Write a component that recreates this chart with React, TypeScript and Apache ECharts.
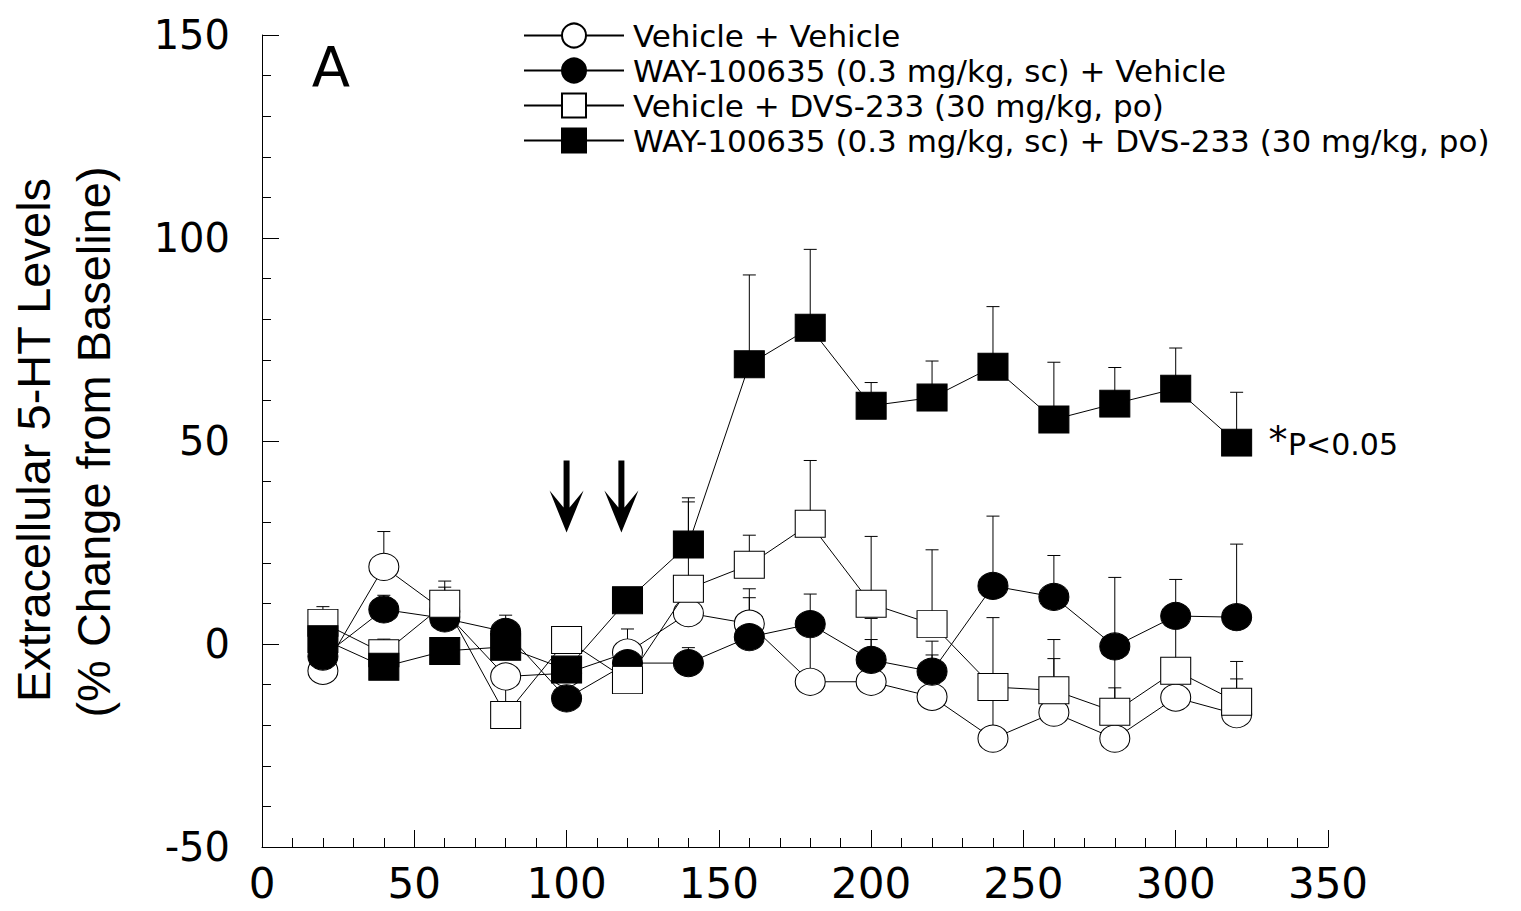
import React, { useEffect, useRef } from "react";
import * as echarts from "echarts";

// ---- data ----
const times = [20, 40, 60, 80, 100, 120, 140, 160, 180, 200, 220, 240, 260, 280, 300, 320];

const seriesNames = [
  "Vehicle + Vehicle",
  "WAY-100635 (0.3 mg/kg, sc) + Vehicle",
  "Vehicle + DVS-233 (30 mg/kg, po)",
  "WAY-100635 (0.3 mg/kg, sc) + DVS-233 (30 mg/kg, po)",
];

// Vehicle + Vehicle (open circles)
const vehVehMean = [-6.6, 19.0, 8.0, -8.0, -7.2, -2.1, 7.6, 5.0, -9.3, -9.3, -13.0, -23.3, -16.9, -23.3, -13.2, -17.3];
const vehVehSem = [3.6, 8.7, 3.0, 3.0, 3.2, 5.8, 3.4, 8.6, 12.3, 10.4, 10.3, 11.3, 13.3, 21.3, 5.2, 8.7];

// WAY-100635 + Vehicle (filled circles)
const wayVehMean = [-3.1, 8.5, 6.3, 3.0, -13.4, -4.7, -4.7, 1.7, 4.9, -3.9, -6.8, 14.3, 11.6, -0.6, 6.9, 6.6];
const wayVehSem = [3.1, 3.5, 7.7, 4.1, 2.4, 2.7, 3.8, 9.7, 7.4, 10.2, 7.5, 17.2, 10.2, 17.0, 9.0, 18.0];

// Vehicle + DVS-233 (open squares)
const vehDvsMean = [5.2, -2.3, 9.9, -17.5, 1.0, -8.9, 13.6, 19.5, 29.6, 9.9, 4.9, -10.6, -11.4, -16.7, -6.6, -14.2];
const vehDvsSem = [4.0, 3.5, 5.6, 8.5, 2.0, 3.9, 21.4, 7.3, 15.6, 16.6, 18.3, 17.1, 12.5, 5.9, 11.6, 9.9];

// WAY-100635 + DVS-233 (filled squares)
const wayDvsMean = [1.2, -5.6, -1.7, -0.7, -6.3, 10.8, 24.5, 68.9, 77.9, 58.7, 60.7, 68.3, 55.3, 59.2, 62.9, 49.6];
const wayDvsSem = [6.8, 2.6, 2.7, 2.7, 2.3, 2.2, 11.5, 22.0, 19.3, 5.7, 9.0, 14.8, 14.1, 8.9, 10.0, 12.4];

// Injection arrows (time points) and their level on the y axis
const injectionTimes = [100, 118];
const arrowLevel = 36.3;

const xMin = 0;
const xMax = 350;
const xInterval = 50;
const yMin = -50;
const yMax = 150;
const yInterval = 50;

const ARROW_PATH = "path://M14 0 L20 0 L20 47 L34 30 L17 72 L0 30 L14 47 Z";

export default function App() {
  const ref = useRef<HTMLDivElement>(null);

  useEffect(() => {
    if (!ref.current) return;
    const chart = echarts.init(ref.current, null, { renderer: "svg" });

    const groups = [
      { name: seriesNames[0], mean: vehVehMean, sem: vehVehSem, symbol: "circle", size: [30, 27], fill: "#fff" },
      { name: seriesNames[1], mean: wayVehMean, sem: wayVehSem, symbol: "circle", size: [30, 27], fill: "#000" },
      { name: seriesNames[2], mean: vehDvsMean, sem: vehDvsSem, symbol: "rect", size: [30, 27], fill: "#fff" },
      { name: seriesNames[3], mean: wayDvsMean, sem: wayDvsSem, symbol: "rect", size: [30, 27], fill: "#000" },
    ];

    const errorSeries = groups.map((g, gi) => ({
      type: "custom",
      name: "err" + gi,
      z: 1,
      silent: true,
      encode: { x: 0, y: 1 },
      data: times.map((t, i) => [t, g.mean[i], g.mean[i] + g.sem[i]]),
      renderItem: (params: any, api: any) => {
        const p0 = api.coord([api.value(0), api.value(1)]);
        const p1 = api.coord([api.value(0), api.value(2)]);
        const hw = 6.5;
        return {
          type: "group",
          children: [
            {
              type: "line",
              shape: { x1: p0[0], y1: p0[1], x2: p1[0], y2: p1[1] },
              style: { stroke: "#000", lineWidth: 1 },
            },
            {
              type: "line",
              shape: { x1: p1[0] - hw, y1: p1[1], x2: p1[0] + hw, y2: p1[1] },
              style: { stroke: "#000", lineWidth: 1 },
            },
          ],
        };
      },
    }));

    const lineSeries = groups.map((g, gi) => {
      const s: any = {
        type: "line",
        name: g.name,
        z: 2 + gi,
        data: times.map((t, i) => [t, g.mean[i]]),
        symbol: g.symbol,
        symbolSize: g.size,
        showAllSymbol: true,
        lineStyle: { color: "#000", width: 1 },
        itemStyle: { color: g.fill, borderColor: "#000", borderWidth: 1, opacity: 1 },
        emphasis: { disabled: true },
      };
      if (gi === 3) {
        s.markPoint = {
          silent: true,
          symbol: ARROW_PATH,
          symbolSize: [34, 72],
          itemStyle: { color: "#000" },
          label: { show: false },
          data: injectionTimes.map((t) => ({ coord: [t, arrowLevel] })),
        };
      }
      return s;
    });

    const option: any = {
      animation: false,
      backgroundColor: "#fff",
      grid: { left: 262, right: 193, top: 35, bottom: 64, containLabel: false },
      legend: {
        orient: "vertical",
        left: 518,
        top: 15,
        itemWidth: 100,
        itemHeight: 30,
        itemGap: 4,
        data: seriesNames,
        selectedMode: false,
        textStyle: {
          fontFamily: "DejaVu Sans",
          fontSize: 31,
          color: "#000",
          padding: [0, 0, 0, 4],
        },
      },
      xAxis: {
        type: "value",
        min: xMin,
        max: xMax,
        interval: xInterval,
        axisLine: { show: true, onZero: false, lineStyle: { color: "#000", width: 1 } },
        axisTick: { show: true, inside: true, length: 17, lineStyle: { color: "#000", width: 1 } },
        minorTick: { show: true, splitNumber: 5, length: 9, lineStyle: { color: "#000", width: 1 } },
        splitLine: { show: false },
        minorSplitLine: { show: false },
        axisLabel: { color: "#000", fontFamily: "DejaVu Sans", fontSize: 42, margin: 15 },
      },
      yAxis: {
        type: "value",
        min: yMin,
        max: yMax,
        interval: yInterval,
        axisLine: { show: true, onZero: false, lineStyle: { color: "#000", width: 1 } },
        axisTick: { show: true, inside: true, length: 17, lineStyle: { color: "#000", width: 1 } },
        minorTick: { show: true, splitNumber: 5, length: 9, lineStyle: { color: "#000", width: 1 } },
        splitLine: { show: false },
        minorSplitLine: { show: false },
        axisLabel: { color: "#000", fontFamily: "DejaVu Sans", fontSize: 40, margin: 32 },
      },
      graphic: [
        {
          type: "text",
          x: 331,
          y: 66,
          style: { text: "A", fill: "#000", font: '56px "DejaVu Sans"', align: "center", verticalAlign: "middle" },
        },
        {
          type: "text",
          x: 33,
          y: 440,
          rotation: Math.PI / 2,
          style: {
            text: "Extracellular 5-HT Levels",
            fill: "#000",
            font: '47px "Liberation Sans"',
            align: "center",
            verticalAlign: "middle",
          },
        },
        {
          type: "text",
          x: 93,
          y: 442,
          rotation: Math.PI / 2,
          style: {
            text: "(% Change from Baseline)",
            fill: "#000",
            font: '47px "Liberation Sans"',
            align: "center",
            verticalAlign: "middle",
          },
        },
        {
          type: "text",
          x: 1278,
          y: 440,
          style: { text: "*", fill: "#000", font: '38px "DejaVu Sans"', align: "center", verticalAlign: "middle" },
        },
        {
          type: "text",
          x: 1288,
          y: 444,
          style: { text: "P<0.05", fill: "#000", font: '30px "DejaVu Sans"', align: "left", verticalAlign: "middle" },
        },
      ],
      series: [...errorSeries, ...lineSeries],
    };

    chart.setOption(option);
    return () => chart.dispose();
  }, []);

  return (
    <div
      ref={ref}
      style={{ position: "absolute", left: 0, top: 0, width: 1521, height: 911, background: "#fff" }}
    />
  );
}
